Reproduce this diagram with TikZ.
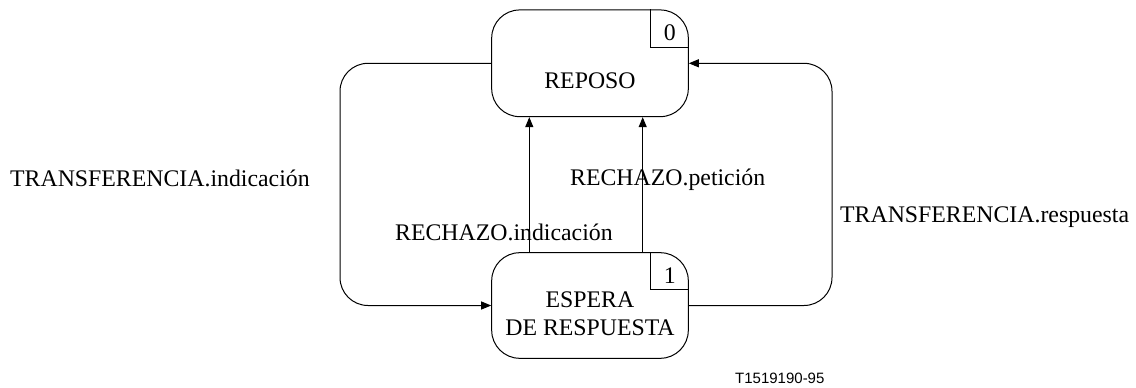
\documentclass[tikz,border=0pt]{standalone}
\usepackage{fontspec}
\setmainfont{Liberation Serif}
\newfontfamily\capfont{Liberation Sans}
\usetikzlibrary{arrows.meta}
\begin{document}
\begin{tikzpicture}[x=1pt,y=-1pt,
  every node/.style={font=\fontsize{23.8}{28}\selectfont},
  state/.style={draw, line width=1pt, rounded corners=28pt, minimum width=196.6pt, inner sep=0pt, align=center},
  conn/.style={line width=1pt},
  arr/.style={line width=1pt, -{Triangle[length=10pt,width=8pt]}},
  lbl/.style={anchor=base west, inner sep=0pt}]
\useasboundingbox (0,0) rectangle (1136,388);
\node[state, minimum height=106.7pt] (reposo) at (590,63.3) {};
\node[anchor=base] (treposo) at (590,88) {REPOSO};
\node[state, minimum height=105.6pt] (espera) at (590,305.5) {};
\node[anchor=base, align=center] (tespera) at (590,307) {ESPERA};
\node[anchor=base, align=center] (tespera2) at (590,335) {DE RESPUESTA};
% corner boxes
\draw[conn] ([xshift=-38pt]reposo.north east) |- ([yshift=-38pt]reposo.north east) coordinate (c0);
\node[anchor=base] (n0) at ([xshift=-19pt,yshift=-31pt]reposo.north east) {0};
\draw[conn] ([xshift=-38pt]espera.north east) |- ([yshift=-37.5pt]espera.north east) coordinate (c1);
\node[anchor=base] (n1) at ([xshift=-19pt,yshift=-31pt]espera.north east) {1};
% left loop
\coordinate (l1) at (340,63.3);
\coordinate (l2) at (340,305.5);
\draw[arr, rounded corners=28pt] (reposo.west) -- (l1) -- (l2) -- (espera.west);
% right loop
\coordinate (r1) at (832,305.5);
\coordinate (r2) at (832,63.3);
\draw[arr, rounded corners=28pt] (espera.east) -- (r1) -- (r2) -- (reposo.east);
% vertical arrows
\draw[arr] ([xshift=-60.7pt]espera.north) -- ([xshift=-60.7pt]reposo.south);
\draw[arr] ([xshift=52.7pt]espera.north) -- ([xshift=52.7pt]reposo.south);
% labels
\node[lbl] (l_ti) at (10,186) {TRANSFERENCIA.indicación};
\node[lbl] (l_rp) at (570,185) {RECHAZO.petición};
\node[lbl] (l_ri) at (395,240) {RECHAZO.indicación};
\node[lbl] (l_tr) at (840,222) {TRANSFERENCIA.respuesta};
\node[lbl, font=\capfont\fontsize{15}{18}\selectfont] (cap) at (735,383) {T1519190-95};
\end{tikzpicture}
\end{document}
